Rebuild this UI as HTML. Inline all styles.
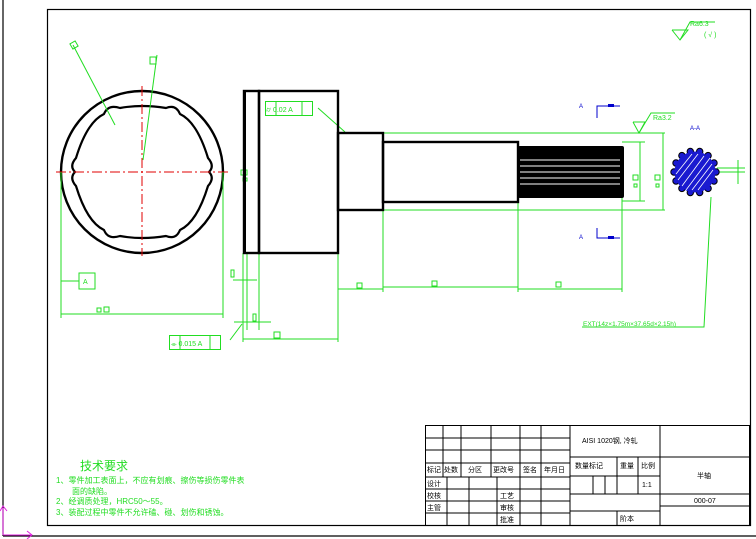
<!DOCTYPE html>
<html><head><meta charset="utf-8"><style>
html,body{margin:0;padding:0;background:#fff;}
svg{display:block;}
text{font-family:"Liberation Sans","Noto Sans CJK SC",sans-serif;}
</style></head><body>
<svg width="756" height="539" viewBox="0 0 756 539" xmlns="http://www.w3.org/2000/svg">
<rect width="756" height="539" fill="#fff"/>
<line x1="3" y1="0" x2="3" y2="536" stroke="#000" stroke-width="1.2"/>
<line x1="3" y1="536" x2="756" y2="536" stroke="#000" stroke-width="1.2"/>
<rect x="47.5" y="9.5" width="703" height="516" fill="none" stroke="#000" stroke-width="1.2"/>
<g stroke="#e020e0" stroke-width="1" fill="none">
<line x1="3" y1="508" x2="3" y2="535"/><line x1="3" y1="535" x2="32" y2="535"/>
<polyline points="0,511 3,506 7,511"/><polyline points="27,531 32,535 27,539"/>
</g>
<circle cx="142" cy="172" r="81" fill="none" stroke="#000" stroke-width="2.4"/>
<path d="M209,172 Q215,166 208,158 Q197,122 180,114 Q176,104 166,108 Q142,104 120,108 Q108,104 104,114 Q87,122 76,158 Q69,166 75,172 Q69,178 76,186 Q87,222 104,230 Q108,240 120,236 Q142,240 166,236 Q176,240 180,230 Q197,222 208,186 Q215,178 209,172Z" fill="none" stroke="#000" stroke-width="2.2" stroke-linejoin="round"/>
<g stroke="#e00000" stroke-width="1" stroke-dasharray="10,3,2,3">
<line x1="56" y1="172" x2="229" y2="172"/><line x1="142" y1="86" x2="142" y2="256"/>
</g>
<g stroke="#22dd22" stroke-width="1" fill="none">
<line x1="73" y1="45" x2="115" y2="125"/><rect x="71" y="42" width="6" height="6" transform="rotate(-30 74 45)"/>
<line x1="157" y1="55" x2="143" y2="160"/><rect x="150" y="57" width="6" height="7"/>
<line x1="61" y1="172" x2="61" y2="318"/><line x1="223" y1="172" x2="223" y2="318"/>
<line x1="61" y1="314" x2="223" y2="314"/>
<rect x="97" y="308" width="4" height="4"/><rect x="104" y="307" width="5" height="5"/>
<line x1="61" y1="281" x2="79" y2="281"/><rect x="79" y="273" width="16" height="16"/>
<line x1="243" y1="253" x2="243" y2="342"/><line x1="247" y1="253" x2="247" y2="330"/>
<line x1="259" y1="253" x2="259" y2="330"/><line x1="338" y1="253" x2="338" y2="342"/>
<line x1="233" y1="280" x2="257" y2="280"/><rect x="231" y="270" width="3" height="7"/>
<line x1="234" y1="322" x2="271" y2="322"/><rect x="253" y="314" width="3" height="7"/>
<line x1="243" y1="339" x2="338" y2="339"/><rect x="274" y="332" width="6" height="6"/>
<line x1="230" y1="340" x2="242" y2="324"/>
<rect x="169.5" y="335.5" width="51" height="14"/><line x1="180" y1="336" x2="180" y2="349"/><line x1="210" y1="336" x2="210" y2="349"/>
<rect x="265.5" y="101.5" width="47" height="14"/><line x1="276" y1="102" x2="276" y2="115"/><line x1="302" y1="102" x2="302" y2="115"/>
<line x1="318" y1="108" x2="345" y2="132"/>
<rect x="241" y="170" width="6" height="5"/><rect x="243" y="178" width="4" height="3"/>
<line x1="245" y1="92" x2="245" y2="253"/>
<line x1="338" y1="289" x2="383" y2="289"/><rect x="357" y="283" width="5" height="5"/>
<line x1="383" y1="210" x2="383" y2="292"/>
<line x1="383" y1="287" x2="518" y2="287"/><rect x="432" y="281" width="5" height="5"/>
<line x1="518" y1="200" x2="518" y2="292"/><line x1="622" y1="160" x2="622" y2="292"/>
<line x1="518" y1="289" x2="622" y2="289"/><rect x="556" y="282" width="5" height="5"/>
<line x1="338" y1="133" x2="665" y2="133"/><line x1="338" y1="210" x2="665" y2="210"/>
<line x1="622" y1="142" x2="645" y2="142"/><line x1="622" y1="201" x2="645" y2="201"/>
<line x1="640" y1="142" x2="640" y2="201"/><line x1="663" y1="133" x2="663" y2="210"/>
<rect x="633" y="175" width="5" height="5"/><rect x="634" y="184" width="3" height="3"/>
<rect x="655" y="175" width="5" height="5"/><rect x="656" y="184" width="3" height="3"/>
<polyline points="633,122 639,133 645,122 633,122"/><polyline points="639,133 651,113 675,113"/>
<polyline points="672,30 680,40 688,30 672,30"/><polyline points="680,40 690,22 715,22"/>
<polyline points="582,327 704,327 711,197"/>
<line x1="717" y1="172" x2="745" y2="172"/><line x1="738" y1="160" x2="738" y2="184"/>
<line x1="717" y1="168" x2="745" y2="168"/>
</g>
<g fill="#22dd22" font-size="7">
<text x="83" y="284">A</text><text x="266" y="112">⌭ 0.02 A</text>
<text x="171" y="346">⌯ 0.015 A</text>
<text x="653" y="120">Ra3.2</text><text x="690" y="26">Ra6.3</text><text x="704" y="37">( √ )</text>
<text x="583" y="326" font-size="6.5">EXT(14z×1.75m×37.65d×2.15h)</text>
</g>
<g stroke="#000" stroke-width="2.4" fill="none">
<rect x="244" y="91" width="15" height="162"/>
<rect x="259" y="91" width="79" height="162"/>
<rect x="338" y="133" width="45" height="77"/>
<rect x="383" y="142" width="135" height="60"/>
</g>
<rect x="243" y="91" width="3" height="162" fill="#000"/>
<rect x="518" y="146" width="106" height="52" rx="2" fill="#000"/>
<g stroke="#fff" stroke-width="1">
<line x1="520" y1="160" x2="620" y2="160"/><line x1="520" y1="166" x2="620" y2="166"/>
<line x1="520" y1="172" x2="620" y2="172"/><line x1="520" y1="178" x2="620" y2="178"/>
<line x1="520" y1="184" x2="620" y2="184"/>
</g>
<g stroke="#0000cc" stroke-width="1" fill="none">
<polyline points="597,118 597,106 620,106"/><polyline points="597,228 597,238 620,238"/>
</g>
<rect x="608" y="104" width="6" height="3" fill="#0000cc"/><rect x="608" y="236" width="6" height="3" fill="#0000cc"/>
<g fill="#0000cc" font-size="6"><text x="579" y="108">A</text><text x="579" y="239">A</text><text x="690" y="130">A-A</text></g>
<g fill="#1a1ad0" stroke="#000" stroke-width="1">
<circle cx="716" cy="172" r="3.2"/><circle cx="714" cy="181" r="3.2"/><circle cx="708.1" cy="188.4" r="3.2"/><circle cx="699.7" cy="192.5" r="3.2"/><circle cx="690.3" cy="192.5" r="3.2"/><circle cx="681.9" cy="188.4" r="3.2"/><circle cx="676" cy="181" r="3.2"/><circle cx="674" cy="172" r="3.2"/><circle cx="676" cy="163" r="3.2"/><circle cx="681.9" cy="155.6" r="3.2"/><circle cx="690.3" cy="151.5" r="3.2"/><circle cx="699.7" cy="151.5" r="3.2"/><circle cx="708.1" cy="155.6" r="3.2"/><circle cx="714" cy="163" r="3.2"/>
<circle cx="695" cy="172" r="20.5" stroke="none"/>
</g>
<g stroke="#fff" stroke-width="0.8">
<line x1="682" y1="186" x2="704" y2="156"/><line x1="686" y1="190" x2="710" y2="158"/><line x1="678" y1="180" x2="698" y2="154"/><line x1="692" y1="190" x2="712" y2="164"/><line x1="676" y1="174" x2="692" y2="154"/><line x1="698" y1="190" x2="713" y2="170"/>
</g>
<g stroke="#000" stroke-width="1" fill="none">
<rect x="425.5" y="425.5" width="324" height="100"/>
<line x1="426" y1="438" x2="570" y2="438"/><line x1="426" y1="450" x2="570" y2="450"/>
<line x1="426" y1="463" x2="570" y2="463"/><line x1="426" y1="477" x2="570" y2="477"/>
<line x1="426" y1="489" x2="570" y2="489"/><line x1="426" y1="501" x2="570" y2="501"/>
<line x1="426" y1="513" x2="570" y2="513"/>
<line x1="443" y1="425" x2="443" y2="477"/><line x1="461" y1="425" x2="461" y2="477"/>
<line x1="491" y1="425" x2="491" y2="477"/>
<line x1="447" y1="477" x2="447" y2="525"/><line x1="469" y1="477" x2="469" y2="525"/>
<line x1="497" y1="477" x2="497" y2="525"/>
<line x1="520" y1="425" x2="520" y2="525"/><line x1="541" y1="425" x2="541" y2="525"/>
<line x1="570" y1="425" x2="570" y2="525"/><line x1="660" y1="425" x2="660" y2="525"/>
<line x1="570" y1="457" x2="749" y2="457"/><line x1="570" y1="476" x2="660" y2="476"/>
<line x1="570" y1="494" x2="749" y2="494"/><line x1="570" y1="511" x2="660" y2="511"/>
<line x1="660" y1="506" x2="749" y2="506"/>
<line x1="593" y1="476" x2="593" y2="494"/><line x1="605" y1="476" x2="605" y2="494"/>
<line x1="617" y1="457" x2="617" y2="494"/><line x1="638" y1="457" x2="638" y2="494"/>
<line x1="617" y1="511" x2="617" y2="525"/>
</g>
<g font-size="7" fill="#000">
<text x="427" y="472">标记</text><text x="444" y="472">处数</text><text x="468" y="472">分区</text><text x="493" y="472">更改号</text><text x="523" y="472">签名</text><text x="544" y="472">年月日</text>
<text x="427" y="486">设计</text><text x="427" y="498">校核</text><text x="427" y="510">主管</text>
<text x="500" y="498">工艺</text><text x="500" y="510">审核</text><text x="500" y="522">批准</text>
<text x="582" y="443">AISI 1020钢, 冷轧</text>
<text x="575" y="468">数量标记</text><text x="620" y="468">重量</text><text x="641" y="468">比例</text>
<text x="642" y="487">1:1</text><text x="697" y="478">半轴</text><text x="694" y="503">000-07</text>
<text x="620" y="521">阶本</text>
</g>
<g fill="#22dd22">
<text x="80" y="470" font-size="12">技术要求</text>
<text x="56" y="483" font-size="8">1、零件加工表面上，不应有划痕、擦伤等损伤零件表</text>
<text x="72" y="494" font-size="8">面的缺陷。</text>
<text x="56" y="504" font-size="8">2、经调质处理，HRC50～55。</text>
<text x="56" y="515" font-size="8">3、装配过程中零件不允许磕、碰、划伤和锈蚀。</text>
</g>
</svg>
</body></html>
